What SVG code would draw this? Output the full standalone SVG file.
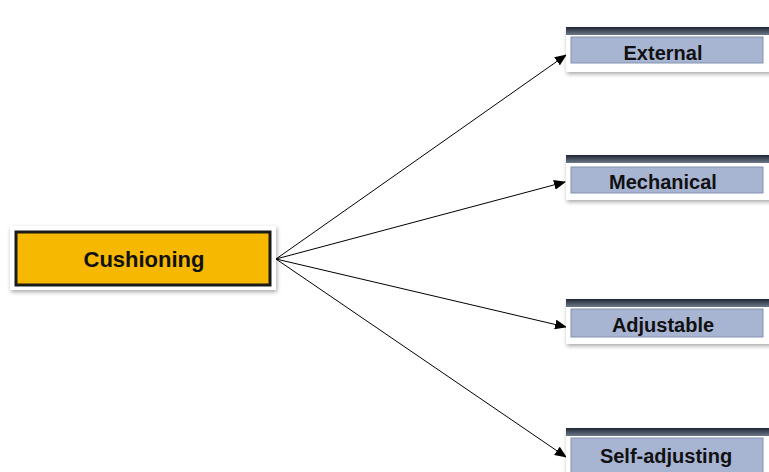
<svg xmlns="http://www.w3.org/2000/svg" width="769" height="472" viewBox="0 0 769 472">
<defs>
<filter id="sh" x="-10%" y="-20%" width="120%" height="150%">
<feDropShadow dx="1" dy="2" stdDeviation="2" flood-color="#000" flood-opacity="0.35"/>
</filter>
<linearGradient id="top" x1="0" y1="0" x2="0" y2="1">
<stop offset="0" stop-color="#1e2633"/>
<stop offset="1" stop-color="#6d7889"/>
</linearGradient>
<marker id="ah" markerWidth="12" markerHeight="10" refX="11" refY="5" orient="auto" markerUnits="userSpaceOnUse">
<path d="M0,0 L12,5 L0,10 Z" fill="#000"/>
</marker>
<style>
.lbl{font-family:"Liberation Sans",Arial,sans-serif;font-weight:bold;font-size:20px;fill:#111;text-anchor:middle}
.frame{fill:#fff;filter:url(#sh)}
.blue{fill:#a7b5d3;stroke:#8391ad;stroke-width:1}
.edge{stroke:#000;stroke-width:1;fill:none;marker-end:url(#ah)}
</style>
</defs>
<rect width="769" height="472" fill="#fff"/>
<g id="connectors">
<line class="edge" x1="276" y1="259" x2="566" y2="55"/>
<line class="edge" x1="276" y1="259" x2="565" y2="182"/>
<line class="edge" x1="276" y1="259" x2="566" y2="327"/>
<line class="edge" x1="276" y1="259" x2="566" y2="457"/>
</g>
<g id="cushioning">
<rect class="frame" x="10" y="226" width="266" height="64"/>
<rect x="16" y="232" width="254" height="53" fill="#f6b800" stroke="#1a1a1a" stroke-width="3"/>
<text class="lbl" x="144" y="267" style="font-size:22px">Cushioning</text>
</g>
<g id="external">
<rect class="frame" x="566" y="28" width="210" height="44"/>
<rect x="566" y="27" width="210" height="8" fill="url(#top)"/>
<rect class="blue" x="571" y="37" width="192" height="26"/>
<text class="lbl" x="663" y="60">External</text>
</g>
<g id="mechanical">
<rect class="frame" x="566" y="156" width="210" height="44"/>
<rect x="566" y="155" width="210" height="8" fill="url(#top)"/>
<rect class="blue" x="571" y="167" width="192" height="26"/>
<text class="lbl" x="663" y="189">Mechanical</text>
</g>
<g id="adjustable">
<rect class="frame" x="566" y="300" width="210" height="44"/>
<rect x="566" y="299" width="210" height="8" fill="url(#top)"/>
<rect class="blue" x="571" y="309" width="192" height="28"/>
<text class="lbl" x="663" y="332">Adjustable</text>
</g>
<g id="self-adjusting">
<rect class="frame" x="566" y="429" width="210" height="50"/>
<rect x="566" y="428" width="210" height="8" fill="url(#top)"/>
<rect class="blue" x="571" y="438" width="192" height="40"/>
<text class="lbl" x="666" y="463">Self-adjusting</text>
</g>
</svg>
